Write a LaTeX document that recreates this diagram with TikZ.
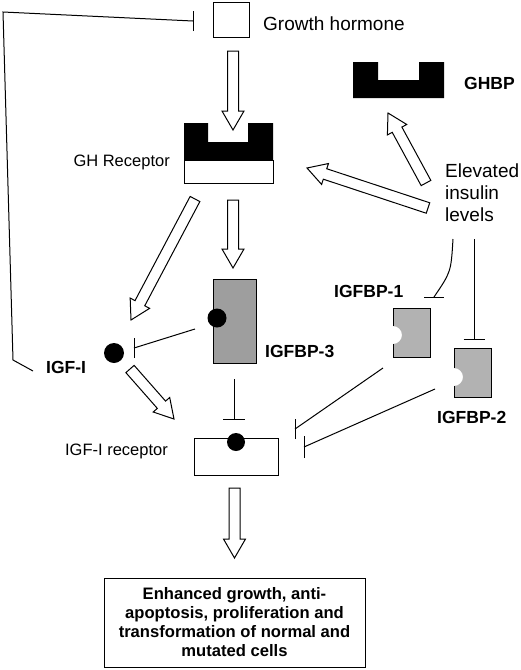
\documentclass[tikz,border=0pt]{standalone}
\usepackage{fontspec}
\setmainfont{Liberation Sans}
\usetikzlibrary{calc}
\newcommand\blockarr[2]{%
  \coordinate (bah) at ($(#2)!19pt!(#1)$);
  \draw[blockarrow] ($(#1)!5.5pt!90:(#2)$) -- ($(bah)!5.5pt!90:(#2)$) -- ($(bah)!11pt!90:(#2)$) -- (#2)
     -- ($(bah)!11pt!-90:(#2)$) -- ($(bah)!5.5pt!-90:(#2)$) -- ($(#1)!5.5pt!-90:(#2)$) -- cycle;}
\begin{document}
\begin{tikzpicture}[x=1pt,y=-1pt,
  blockarrow/.style={draw=black, fill=white, line width=1pt, line join=miter},
  inh/.style={draw=black, line width=1pt},
  box/.style={draw=black, line width=1pt, inner sep=0pt},
  lbl/.style={font=\fontsize{19}{22}\selectfont, inner sep=0pt},
  slbl/.style={font=\fontsize{16.5}{19}\selectfont, inner sep=0pt},
  blbl/.style={font=\fontsize{17.5}{20}\selectfont\bfseries, inner sep=0pt},
  dot/.style={circle, fill=black, inner sep=0pt},
  ]
\useasboundingbox[fill=white] (0,0) rectangle (520,670);

% ---- shapes ----
\node[box, fill=white, minimum width=36, minimum height=35] (gh) at (231,19.5) {};
\node[box, fill=white, minimum width=89, minimum height=23] (ghr) at (228.5,171.5) {};
\fill (184,123) -- (208,123) -- (208,142) -- (248,142) -- (248,123) -- (273,123) -- (273,160) -- (184,160) -- cycle;
\fill (353,62) -- (378,62) -- (378,80) -- (419,80) -- (419,62) -- (444,62) -- (444,98) -- (353,98) -- cycle;

\node[box, fill=black!38, minimum width=43, minimum height=84] (bp3) at (234.5,321) {};
\node[dot, minimum size=19] (bp3c) at (217,318) {};
\node[dot, minimum size=20] (igf) at (114,353) {};

\fill[black!30] (393,308) -- (430,308) -- (430,357) -- (393,357) -- (393,344) arc (90:-90:9) -- cycle;
\draw[inh] (393,326) -- (393,308) -- (430,308) -- (430,357) -- (393,357) -- (393,344);
\fill[black!30] (454,348) -- (491,348) -- (491,397) -- (454,397) -- (454,386) arc (90:-90:9) -- cycle;
\draw[inh] (454,368) -- (454,348) -- (491,348) -- (491,397) -- (454,397) -- (454,386);
\coordinate (bp1) at (411.5,332.5);
\coordinate (bp2) at (472.5,372.5);

\node[box, fill=white, minimum width=84, minimum height=37] (igfr) at (236,456.5) {};
\node[dot, minimum size=18] (igfrc) at (236,442) {};

\node[box, minimum width=261, minimum height=89, align=center,
      font=\fontsize{16.6}{19}\selectfont\bfseries] (out) at (234.5,622.5)
  {Enhanced growth, anti-\\apoptosis, proliferation and\\transformation of normal and\\mutated cells};

% ---- labels ----
\node[lbl, anchor=base west] (tgh) at (263,30) {Growth hormone};
\node[slbl, anchor=base east] (tghr) at (170,166) {GH Receptor};
\node[blbl, anchor=base west] (tghbp) at (464,89) {GHBP};
\node[lbl, anchor=north west, align=left] (tins) at (445,164) {Elevated\\insulin\\levels};
\node[blbl, anchor=base west] (t1) at (334,297) {IGFBP-1};
\node[blbl, anchor=base west] (t3) at (265,357) {IGFBP-3};
\node[blbl, anchor=base west] (tigf) at (46,373) {IGF-I};
\node[blbl, anchor=base west] (t2) at (437,423) {IGFBP-2};
\node[slbl, anchor=base east] (tigfr) at (168,455) {IGF-I receptor};

% ---- block arrows ----
\coordinate (a1t) at (233,51);   \coordinate (a1h) at (233,130);
\coordinate (a2t) at (233,200);  \coordinate (a2h) at (233,268);
\coordinate (a3t) at (195,199);  \coordinate (a3h) at (131,320);
\coordinate (a4t) at (426,183);  \coordinate (a4h) at (388,113);
\coordinate (a5t) at (428,208);  \coordinate (a5h) at (307,168);
\coordinate (a6t) at (130,369);  \coordinate (a6h) at (174,419);
\coordinate (a7t) at (234.5,488);\coordinate (a7h) at (234.5,558);
\blockarr{a1t}{a1h}
\blockarr{a2t}{a2h}
\blockarr{a3t}{a3h}
\blockarr{a4t}{a4h}
\blockarr{a5t}{a5h}
\blockarr{a6t}{a6h}
\blockarr{a7t}{a7h}

% ---- inhibition lines ----
\coordinate (f0) at (33,371); \coordinate (f1) at (13,360); \coordinate (f2) at (3,12); \coordinate (f3) at (193,21);
\draw[inh] (f0) -- (f1) -- (f2) -- (f3);
\draw[inh] ([yshift=-10]f3) -- ([yshift=10]f3);
\coordinate (b3s) at (195,329); \coordinate (b3e) at (134,348);
\draw[inh] (b3s) -- (b3e);
\draw[inh] ([yshift=-10]b3e) -- ([yshift=10]b3e);
\coordinate (b3r) at (234,379); \coordinate (b3re) at (234,419);
\draw[inh] (b3r) -- (b3re);
\draw[inh] ([xshift=-11]b3re) -- ([xshift=11]b3re);
\coordinate (b1s) at (383,368); \coordinate (b1e) at (295,429);
\draw[inh] (b1s) -- (b1e);
\draw[inh] ([yshift=-10]b1e) -- ([yshift=10]b1e);
\coordinate (b2s) at (435,389); \coordinate (b2e) at (304,447);
\draw[inh] (b2s) -- (b2e);
\draw[inh] ([yshift=-11]b2e) -- ([yshift=11]b2e);
\coordinate (i1s) at (453,239); \coordinate (i1e) at (434,297);
\draw[inh] (i1s) .. controls (451,272) .. (i1e);
\draw[inh] ([xshift=-10]i1e) -- ([xshift=10]i1e);
\coordinate (i2s) at (474,239); \coordinate (i2e) at (474,339);
\draw[inh] (i2s) -- (i2e);
\draw[inh] ([xshift=-10.5]i2e) -- ([xshift=10.5]i2e);
\end{tikzpicture}
\end{document}
